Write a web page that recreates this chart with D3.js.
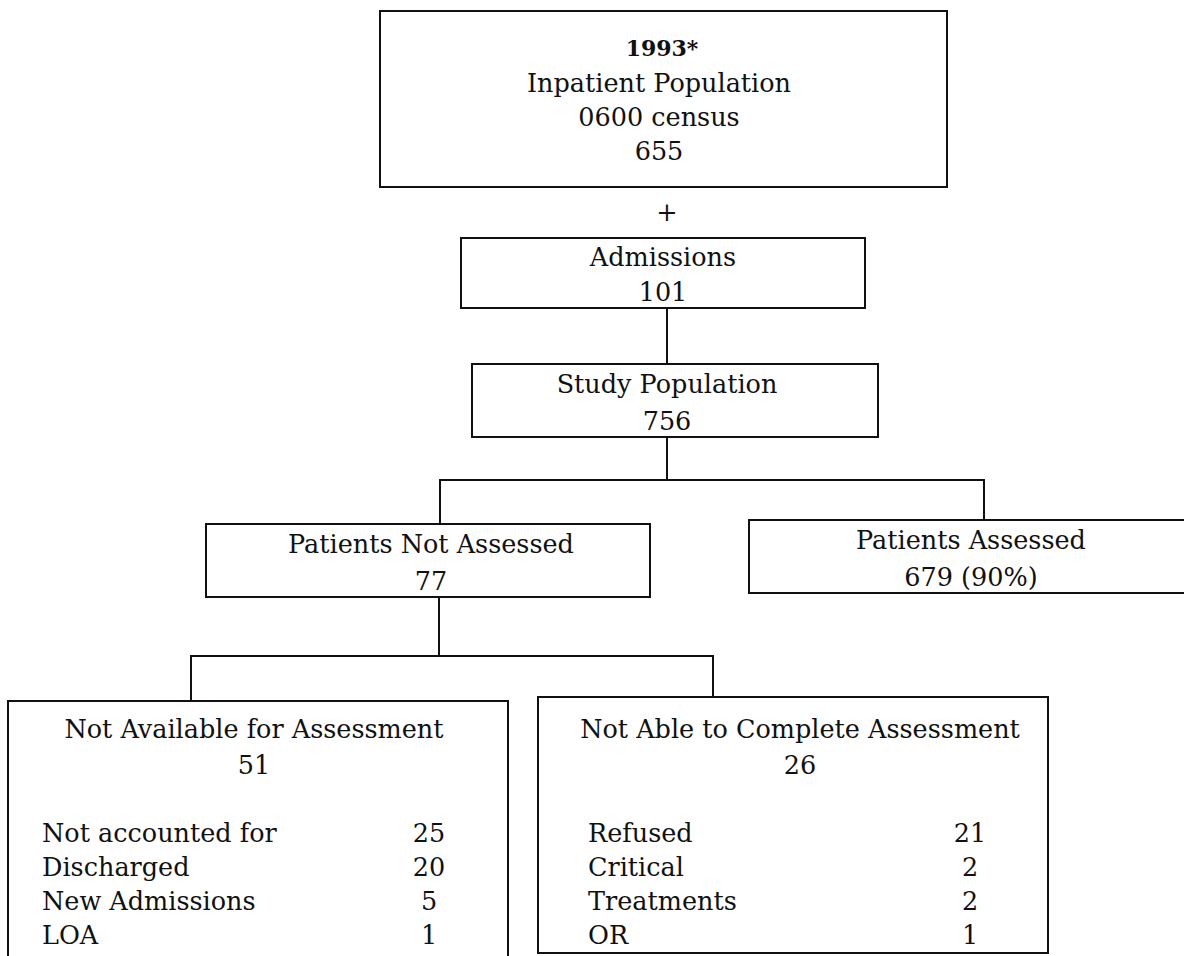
<!DOCTYPE html>
<html>
<head>
<meta charset="utf-8">
<script src="https://cdn.jsdelivr.net/npm/d3@7"></script>
<style>
  body { margin: 0; background: #fff; }
  svg text { font-family: "DejaVu Serif", serif; font-size: 25.5px; fill: #111; }
  .box { fill: none; stroke: #111; stroke-width: 2; }
  .link { fill: none; stroke: #111; stroke-width: 2; }
</style>
</head>
<body>
<svg id="chart" width="1184" height="956"></svg>
<script>
// text of each box, top to bottom
var censusLines = ["1993*", "Inpatient Population", "0600 census", "655"];
var admissionLines = ["Admissions", "101"];
var studyLines = ["Study Population", "756"];
var notAssessedLines = ["Patients Not Assessed", "77"];
var assessedLines = ["Patients Assessed", "679 (90%)"];
var notAvailableLines = ["Not Available for Assessment", "51"];
var notAbleLines = ["Not Able to Complete Assessment", "26"];

// breakdowns
var notAvailableReasons = ["Not accounted for", "Discharged", "New Admissions", "LOA"];
var notAvailableCounts = [25, 20, 5, 1];
var notAbleReasons = ["Refused", "Critical", "Treatments", "OR"];
var notAbleCounts = [21, 2, 2, 1];

var svg = d3.select("#chart");

// layout of the boxes (pixels)
var boxes = [
    { lines: censusLines,       x0: 380, x1: 947,  y0: 11,  y1: 187, cx: 659, base: [56, 92, 126, 160] },
    { lines: admissionLines,    x0: 461, x1: 865,  y0: 238, y1: 308, cx: 663, base: [266, 301] },
    { lines: studyLines,        x0: 472, x1: 878,  y0: 364, y1: 437, cx: 667, base: [393, 430] },
    { lines: notAssessedLines,  x0: 206, x1: 650,  y0: 524, y1: 597, cx: 431, base: [553, 590] },
    { lines: assessedLines,     x0: 749, x1: 1192, y0: 520, y1: 593, cx: 971, base: [549, 586] },
    { lines: notAvailableLines, x0: 8,   x1: 508,  y0: 701, y1: 960, cx: 254, base: [738, 774] },
    { lines: notAbleLines,      x0: 538, x1: 1048, y0: 697, y1: 953, cx: 800, base: [738, 774] }
];

svg.selectAll("rect.box")
    .data(boxes)
    .enter().append("rect")
    .attr("class", "box")
    .attr("x", function(d) { return d.x0; })
    .attr("y", function(d) { return d.y0; })
    .attr("width", function(d) { return d.x1 - d.x0; })
    .attr("height", function(d) { return d.y1 - d.y0; });

boxes.forEach(function(b, bi) {
    var isYear = function(i) { return bi === 0 && i === 0; };
    svg.append("g")
        .selectAll("text")
        .data(b.lines)
        .enter().append("text")
        .attr("x", function(d, i) { return isYear(i) ? b.cx + 3 : b.cx; })
        .attr("y", function(d, i) { return b.base[i]; })
        .attr("text-anchor", "middle")
        .style("font-weight", function(d, i) { return isYear(i) ? "bold" : null; })
        .style("font-size", function(d, i) { return isYear(i) ? "22px" : null; })
        .text(function(d) { return d; });
});

// the "+" between census and admissions
svg.append("text")
    .attr("x", 667)
    .attr("y", 221)
    .attr("text-anchor", "middle")
    .text("+");

// connectors
var line = d3.line();
var links = [
    [[667, 308], [667, 364]],
    [[667, 437], [667, 480]],
    [[440, 524], [440, 480], [984, 480], [984, 520]],
    [[439, 597], [439, 656]],
    [[191, 701], [191, 656], [713, 656], [713, 697]]
];
svg.selectAll("path.link")
    .data(links)
    .enter().append("path")
    .attr("class", "link")
    .attr("d", line);

// breakdown rows
var rowY = d3.scaleLinear().domain([0, 3]).range([842, 944]);

function drawRows(labels, counts, labelX, countX) {
    var g = svg.append("g");
    g.selectAll("text.lab")
        .data(labels)
        .enter().append("text")
        .attr("class", "lab")
        .attr("x", labelX)
        .attr("y", function(d, i) { return rowY(i); })
        .text(function(d) { return d; });
    g.selectAll("text.cnt")
        .data(counts)
        .enter().append("text")
        .attr("class", "cnt")
        .attr("x", countX)
        .attr("y", function(d, i) { return rowY(i); })
        .attr("text-anchor", "middle")
        .text(function(d) { return d; });
}

drawRows(notAvailableReasons, notAvailableCounts, 42, 429);
drawRows(notAbleReasons, notAbleCounts, 588, 970);
</script>
</body>
</html>
